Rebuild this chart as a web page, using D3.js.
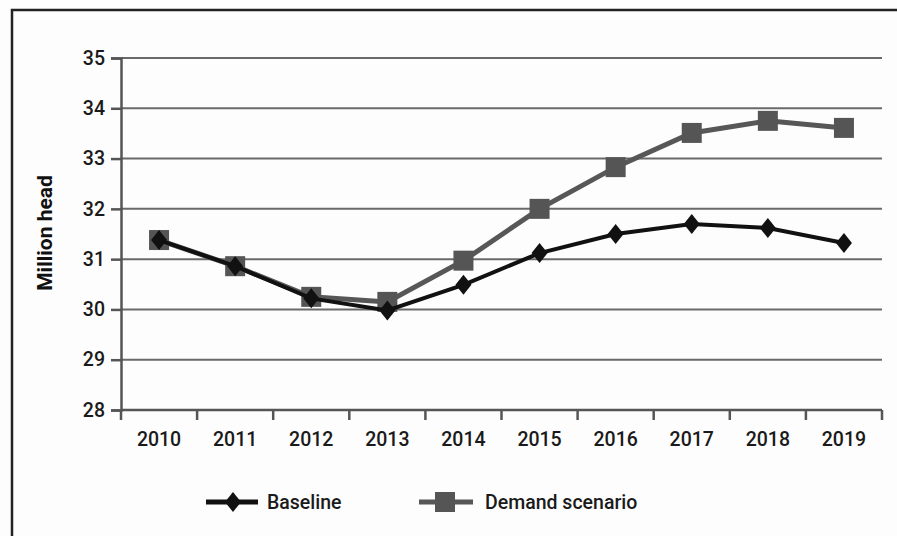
<!DOCTYPE html>
<html>
<head>
<meta charset="utf-8">
<script src="https://cdn.jsdelivr.net/npm/d3@7"></script>
<style>
  body { margin: 0; background: #fff; }
  svg { display: block; font-family: Roboto, "Open Sans", sans-serif; }
</style>
</head>
<body>
<div id="chart"></div>
<script>
// chart data
const years = ['2010', '2011', '2012', '2013', '2014', '2015', '2016', '2017', '2018', '2019'];
const baseline = [31.38, 30.86, 30.22, 29.98, 30.49, 31.12, 31.5, 31.7, 31.62, 31.32];
const demand = [31.38, 30.86, 30.25, 30.15, 30.97, 32.0, 32.83, 33.51, 33.75, 33.61];
const yTicks = [28, 29, 30, 31, 32, 33, 34, 35];

const W = 897, H = 536;
const margin = { top: 58, right: 15, bottom: 126, left: 121 };
const fs = 19.5;
const font = 'Roboto, "Open Sans", sans-serif';

const svg = d3.select('#chart').append('svg')
  .attr('width', W).attr('height', H);

svg.append('rect').attr('width', W).attr('height', H).attr('fill', '#fdfdfd');

// outer frame (top and left edges visible)
svg.append('path')
  .attr('d', `M12,${H} L12,10 L${W},10`)
  .attr('fill', 'none').attr('stroke', '#222').attr('stroke-width', 2.5);

const x = d3.scaleBand().domain(years).range([margin.left, 882]);
const y = d3.scaleLinear().domain([28, 35]).range([410, margin.top]);

// gridlines
svg.append('g').selectAll('line')
  .data(yTicks.slice(1))
  .enter().append('line')
  .attr('x1', margin.left).attr('x2', 882)
  .attr('y1', d => y(d)).attr('y2', d => y(d))
  .attr('stroke', '#6a6a6a').attr('stroke-width', 2);

// y axis
const yAxis = svg.append('g')
  .attr('transform', `translate(${margin.left},0)`)
  .call(d3.axisLeft(y).tickValues(yTicks).tickSize(10).tickPadding(6).tickFormat(d3.format('d')));
yAxis.select('.domain').attr('stroke', '#555').attr('stroke-width', 2.5);
yAxis.selectAll('.tick line').attr('stroke', '#555').attr('stroke-width', 2.5);
yAxis.selectAll('text').attr('fill', '#1a1a1a').attr('font-size', fs).attr('font-weight', 500)
  .attr('font-family', font);

// x axis, ticks at band edges
const xAxis = svg.append('g').attr('transform', `translate(0,${y(28)})`);
xAxis.append('line')
  .attr('x1', margin.left).attr('x2', 882)
  .attr('stroke', '#555').attr('stroke-width', 2.5);
xAxis.selectAll('.edge')
  .data(years.concat(['end']))
  .enter().append('line')
  .attr('x1', (d, i) => i < years.length ? x(d) : x(years[years.length - 1]) + x.bandwidth())
  .attr('x2', (d, i) => i < years.length ? x(d) : x(years[years.length - 1]) + x.bandwidth())
  .attr('y1', 0).attr('y2', 10)
  .attr('stroke', '#555').attr('stroke-width', 2.5);
xAxis.selectAll('.lbl')
  .data(years)
  .enter().append('text')
  .attr('x', d => x(d) + x.bandwidth() / 2)
  .attr('y', 36)
  .attr('text-anchor', 'middle')
  .attr('font-size', fs).attr('font-weight', 500).attr('fill', '#1a1a1a')
  .text(d => d);

// y title
svg.append('text')
  .attr('transform', `translate(52,233) rotate(-90)`)
  .attr('text-anchor', 'middle')
  .attr('font-size', 21).attr('font-weight', 700).attr('fill', '#111')
  .text('Million head');

const cx = d => x(d) + x.bandwidth() / 2;
const line = d3.line().x((d, i) => cx(years[i])).y(d => y(d));

// demand scenario
svg.append('path').datum(demand)
  .attr('d', line).attr('fill', 'none')
  .attr('stroke', '#575757').attr('stroke-width', 5);
svg.append('g').selectAll('rect')
  .data(demand).enter().append('rect')
  .attr('x', (d, i) => cx(years[i]) - 10)
  .attr('y', d => y(d) - 10)
  .attr('width', 20).attr('height', 20)
  .attr('fill', '#555');

// baseline
const diamond = 'M0,-10L8,0L0,10L-8,0Z';
svg.append('path').datum(baseline)
  .attr('d', line).attr('fill', 'none')
  .attr('stroke', '#111').attr('stroke-width', 4);
svg.append('g').selectAll('path')
  .data(baseline).enter().append('path')
  .attr('d', diamond)
  .attr('transform', (d, i) => `translate(${cx(years[i])},${y(d)})`)
  .attr('fill', '#111');

// legend
const ly = 502;
const leg = svg.append('g');
leg.append('line').attr('x1', 206).attr('x2', 258).attr('y1', ly).attr('y2', ly)
  .attr('stroke', '#111').attr('stroke-width', 5);
leg.append('path').attr('d', diamond).attr('transform', `translate(233,${ly})`).attr('fill', '#111');
leg.append('text').attr('x', 267).attr('y', ly + 7)
  .attr('font-size', fs).attr('font-weight', 500).attr('fill', '#1a1a1a').text('Baseline');

leg.append('line').attr('x1', 419).attr('x2', 473).attr('y1', ly).attr('y2', ly)
  .attr('stroke', '#575757').attr('stroke-width', 5);
leg.append('rect').attr('x', 435).attr('y', ly - 10).attr('width', 20).attr('height', 20).attr('fill', '#555');
leg.append('text').attr('x', 485).attr('y', ly + 7)
  .attr('font-size', fs).attr('font-weight', 500).attr('fill', '#1a1a1a').text('Demand scenario');
</script>
</body>
</html>
